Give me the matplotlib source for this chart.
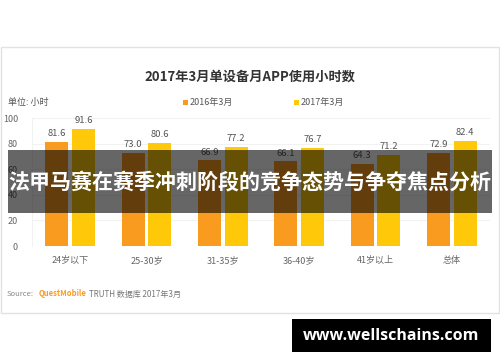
import matplotlib
matplotlib.use('Agg')
import matplotlib.pyplot as plt
from matplotlib.patches import Rectangle
import numpy as np

plt.rcParams['font.family'] = ['Noto Sans CJK SC', 'DejaVu Sans']

categories = ['24岁以下', '25-30岁', '31-35岁', '36-40岁', '41岁以上', '总体']
hours_2016 = [81.6, 73.0, 66.9, 66.1, 64.3, 72.9]
hours_2017 = [91.6, 80.6, 77.2, 76.7, 71.2, 82.4]
series_names = ['2016年3月', '2017年3月']
yticks = [0, 20, 40, 60, 80, 100]

c16 = '#F99B1E'
c17 = '#FFC90A'

W, H = 500, 362
fig = plt.figure(figsize=(W / 100, H / 100), dpi=100)

def fx(px):
    return px / W

def fy(py):
    return 1 - py / H

# card background with light border
fig.patches.append(Rectangle((fx(0.5), fy(313)), fx(498.5), 266 / H,
                             transform=fig.transFigure, facecolor='white',
                             edgecolor='#e2e2e2', linewidth=1, zorder=-1))

ax = fig.add_axes([fx(32), fy(246), fx(458), 128 / H])
ax.patch.set_alpha(0)
x = np.arange(len(categories))
w = 0.30
b1 = ax.bar(x - 0.175, hours_2016, w, color=c16, zorder=2)
b2 = ax.bar(x + 0.175, hours_2017, w, color=c17, zorder=2)
for bars, vals in ((b1, hours_2016), (b2, hours_2017)):
    for r, v in zip(bars, vals):
        ax.text(r.get_x() + r.get_width() / 2, v + 3, f'{v:.1f}',
                ha='center', va='bottom', fontsize=6.8, color='#555555')

ax.set_xlim(-0.5, len(categories) - 0.5)
ax.set_ylim(0, 100)
ax.set_yticks(yticks)
ax.set_xticks(x)
ax.set_xticklabels(categories)
ax.tick_params(axis='both', length=0, labelsize=6.5, labelcolor='#666666')
ax.tick_params(axis='y', pad=10)
ax.tick_params(axis='x', pad=7)
ax.grid(axis='y', color='#f2f2f2', linewidth=0.8, zorder=0)
ax.set_axisbelow(True)
for s in ['top', 'right', 'bottom']:
    ax.spines[s].set_visible(False)
ax.spines['left'].set_color('#f2f2f2')

# title and unit
fig.text(0.5, fy(77), '2017年3月单设备月APP使用小时数', ha='center', va='center',
         fontsize=9.5, fontweight='bold', color='#333333')
fig.text(fx(8), fy(102), '单位: 小时', ha='left', va='center', fontsize=6.5,
         color='#555555')

# legend
for px, name, c in ((183, series_names[0], c16), (294, series_names[1], c17)):
    fig.patches.append(Rectangle((fx(px), fy(104.5)), fx(5), 5 / H,
                                 transform=fig.transFigure, facecolor=c,
                                 edgecolor='none'))
    fig.text(fx(px + 7), fy(102), name, ha='left', va='center', fontsize=6.5,
             color='#555555')

# source
fig.text(fx(7), fy(294), 'Source:', ha='left', va='center', fontsize=5.5,
         color='#888888')
fig.text(fx(39), fy(294), 'QuestMobile', ha='left', va='center', fontsize=5.5,
         fontweight='bold', color='#F99B1E')
fig.text(fx(89), fy(294), 'TRUTH 数据库 2017年3月', ha='left', va='center',
         fontsize=5.8, color='#777777')

# overlay banner
fig.patches.append(Rectangle((fx(8), fy(213)), fx(484), 63 / H,
                             transform=fig.transFigure, facecolor='black',
                             alpha=0.6, edgecolor='none', zorder=5))
fig.text(0.5, fy(182), '法甲马赛在赛季冲刺阶段的竞争态势与争夺焦点分析',
         ha='center', va='center', fontsize=15.1, fontweight='bold',
         color='white', zorder=6)

# watermark
fig.patches.append(Rectangle((fx(292), fy(352)), fx(199), 33 / H,
                             transform=fig.transFigure, facecolor='black',
                             edgecolor='none', zorder=5))
fig.text(fx(391.5), fy(335.5), 'www.wellschains.com', ha='center', va='center',
         fontsize=11.5, fontweight='bold', color='white', zorder=6,
         family=['Open Sans', 'DejaVu Sans'])

fig.savefig('out.png', dpi=100)
